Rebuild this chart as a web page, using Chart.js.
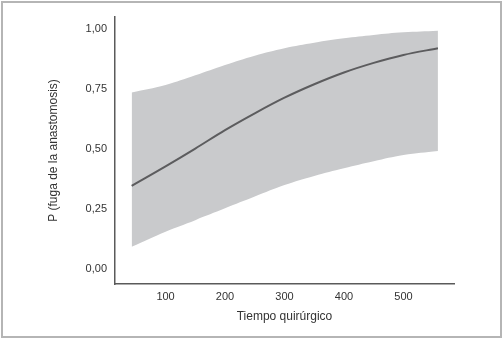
<!DOCTYPE html>
<html>
<head>
<meta charset="utf-8">
<script src="https://cdn.jsdelivr.net/npm/chart.js@4.4.0/dist/chart.umd.min.js"></script>
<style>
  html, body { margin: 0; padding: 0; background: #fff; }
  #wrap { position: relative; width: 502px; height: 338px; }
  #frame { position: absolute; left: 1px; top: 1px; width: 497px; height: 333px; border: 2px solid #b5b5b5; }
  #chart { position: absolute; left: 0; top: 0; }
</style>
</head>
<body>
<div id="wrap">
  <div id="frame"></div>
  <canvas id="chart" width="502" height="338"></canvas>
</div>
<script>
// === Data ===
const tiempo   = [43, 100, 150, 200, 250, 300, 350, 400, 450, 500, 558];
const prob     = [0.348, 0.429, 0.503, 0.580, 0.650, 0.715, 0.771, 0.820, 0.860, 0.893, 0.921];
const ciUpper  = [0.737, 0.768, 0.808, 0.851, 0.890, 0.921, 0.944, 0.962, 0.976, 0.987, 0.994];
const ciLower  = [0.094, 0.157, 0.205, 0.254, 0.303, 0.351, 0.389, 0.421, 0.450, 0.476, 0.493];
const xTicks   = [100, 200, 300, 400, 500];
const yTicks   = [0, 0.25, 0.5, 0.75, 1];

const pts = ys => tiempo.map((x, i) => ({ x, y: ys[i] }));
const fmt = v => v.toFixed(2).replace(".", ",");

const axisColor = "#5a5a5a";
const textColor = "#333";
const font = { family: "Liberation Sans, Arial, sans-serif", size: 11 };

new Chart(document.getElementById("chart"), {
  type: "line",
  data: {
    datasets: [
      // curve first so it is drawn on top of the band
      { data: pts(prob), borderColor: "#5c5c5e", borderWidth: 2, pointRadius: 0,
        fill: false, cubicInterpolationMode: "monotone" },
      { data: pts(ciLower), borderWidth: 0, pointRadius: 0, fill: false, tension: 0.4 },
      { data: pts(ciUpper), borderWidth: 0, pointRadius: 0, fill: 1,
        backgroundColor: "#c9cacc", tension: 0.4 }
    ]
  },
  options: {
    responsive: false,
    animation: false,
    layout: { padding: { left: 42, top: 17, right: 48, bottom: 0 } },
    plugins: { legend: { display: false }, tooltip: { enabled: false } },
    scales: {
      x: {
        type: "linear",
        min: 15, max: 585,
        afterBuildTicks: s => { s.ticks = xTicks.map(v => ({ value: v })); },
        afterFit: s => { s.height = 54; },
        grid: { display: false, drawTicks: true, tickLength: 5, tickColor: axisColor },
        border: { color: axisColor, width: 1.5 },
        ticks: { color: textColor, font, padding: 1 },
        title: { display: true, text: "Tiempo quirúrgico", color: textColor,
                 font: { family: font.family, size: 12 }, padding: { top: 4, bottom: 14 } }
      },
      y: {
        min: -0.061, max: 1.051,
        afterBuildTicks: s => { s.ticks = yTicks.map(v => ({ value: v })); },
        afterFit: s => { s.width = 73; },
        grid: { display: false, drawTicks: true, tickLength: 5, tickColor: axisColor },
        border: { color: axisColor, width: 1.5 },
        ticks: { color: textColor, font, padding: 3, callback: v => fmt(v) },
        title: { display: true, text: "P (fuga de la anastomosis)", color: textColor,
                 font: { family: font.family, size: 12 }, padding: { bottom: 6 } }
      }
    }
  }
});
</script>
</body>
</html>
